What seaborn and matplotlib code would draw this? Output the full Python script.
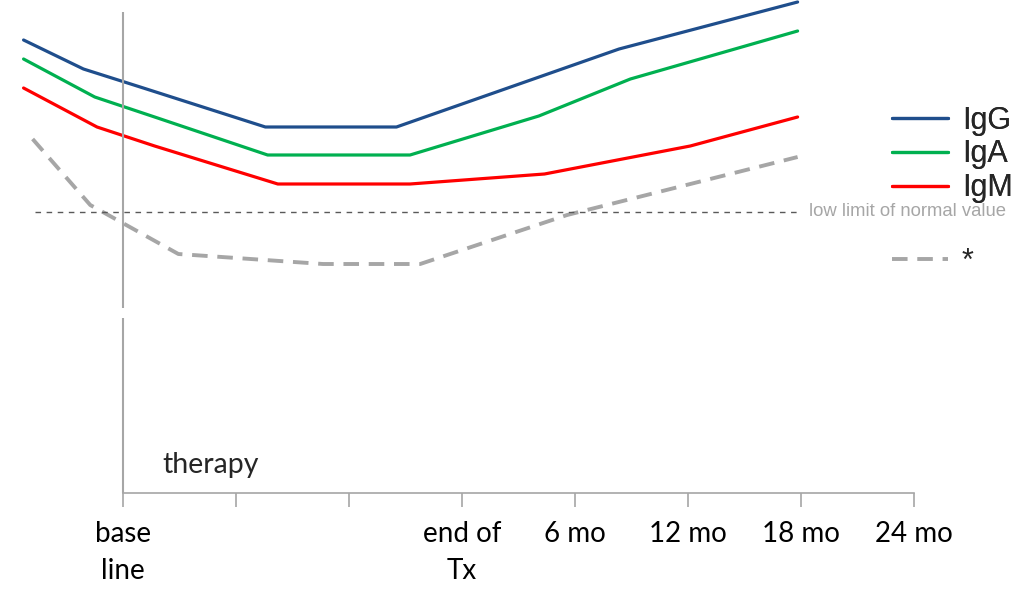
import seaborn as sns
import matplotlib.pyplot as plt
import pandas as pd
from matplotlib.lines import Line2D

# schematic immunoglobulin levels (arbitrary units), x in tick-slot units
igg_x = [-0.88, -0.35, 0.18, 1.26, 2.42, 4.39, 5.97]
igg_y = [45.3, 42.4, 40.5, 36.6, 36.6, 44.4, 49.1]
iga_x = [-0.88, -0.25, 0.28, 1.28, 2.54, 3.68, 4.49, 5.97]
iga_y = [43.4, 39.6, 37.6, 33.8, 33.8, 37.7, 41.4, 46.2]
igm_x = [-0.88, -0.23, 0.28, 1.37, 2.54, 3.73, 5.02, 5.97]
igm_y = [40.5, 36.6, 34.7, 30.9, 30.9, 31.9, 34.7, 37.6]
star_x = [-0.80, -0.29, 0.49, 1.77, 2.63, 3.93, 5.97]
star_y = [35.4, 28.8, 23.9, 22.9, 22.9, 27.8, 33.6]

limit_x = [-0.78, 5.97]
limit_y = 28.1

tick_pos = [0, 1, 2, 3, 4, 5, 6, 7]
tick_labels = ['base\nline', '', '', 'end of\nTx', '6 mo', '12 mo', '18 mo', '24 mo']

colors = {'IgG': '#1F4E8C', 'IgA': '#00B050', 'IgM': '#FF0000', '*': '#A6A6A6'}

sns.set_style("white")
plt.rcParams['font.family'] = ['Lato', 'DejaVu Sans']

frames = []
for name, xs, ys in [('IgG', igg_x, igg_y), ('IgA', iga_x, iga_y), ('IgM', igm_x, igm_y)]:
    frames.append(pd.DataFrame({'time': xs, 'level': ys, 'series': name}))
df = pd.concat(frames, ignore_index=True)
df_star = pd.DataFrame({'time': star_x, 'level': star_y, 'series': '*'})

fig = plt.figure(figsize=(10.24, 5.94), dpi=100)
ax = fig.add_axes([21.3 / 1024, 101 / 594, 892.7 / 1024, 493 / 594])

sns.lineplot(data=df, x='time', y='level', hue='series', palette=colors,
             estimator=None, sort=False, linewidth=2.3, ax=ax, legend=False)
sns.lineplot(data=df_star, x='time', y='level', color=colors['*'],
             estimator=None, sort=False, linewidth=2.8, ax=ax, legend=False)
for ln in ax.lines:
    ln.set_clip_on(False)
ax.lines[-1].set_dashes((4, 2.5))

# lower limit of normal
ax.plot(limit_x, [limit_y, limit_y], color='#595959', lw=1, dashes=(4, 4))
ax.text(6.07, limit_y, 'low limit of normal value', color='#A6A6A6',
        fontsize=13.3, family=['Liberation Sans'], va='center', ha='left')

# therapy marker (broken vertical line)
ax.vlines(0, 0, 17.5, color='#A6A6A6', lw=1.5)
ax.vlines(0, 18.5, 48.1, color='#A6A6A6', lw=1.5)
ax.text(0.35, 2.0, 'therapy', fontsize=20.5, va='baseline', ha='left')

ax.set_xlim(-0.9, 7)
ax.set_ylim(0, 49.3)
ax.set_xticks(tick_pos)
ax.set_xticklabels(tick_labels, fontsize=20)
for lbl in ax.get_xticklabels():
    lbl.set_linespacing(1.55)
ax.set_yticks([])
ax.set_xlabel('')
ax.set_ylabel('')
for s in ['top', 'right', 'left']:
    ax.spines[s].set_visible(False)
ax.spines['bottom'].set_bounds(0, 7)
ax.spines['bottom'].set_color('#A6A6A6')
ax.spines['bottom'].set_linewidth(1.2)
ax.tick_params(axis='x', bottom=True, direction='out', length=10, width=1.2,
               color='#A6A6A6', pad=10, labelcolor='black')

handles = [Line2D([], [], color=colors[k], lw=2.3) for k in ['IgG', 'IgA', 'IgM']]
leg = fig.legend(handles, ['IgG', 'IgA', 'IgM'], loc='upper left',
                 bbox_to_anchor=(864 / 1024, 1 - 78 / 594), frameon=False,
                 prop={'family': 'Liberation Sans', 'size': 22},
                 handlelength=1.85, handletextpad=0.45, labelspacing=0.13)
star_h = [Line2D([], [], color=colors['*'], lw=2.8, dashes=(4, 2.5))]
leg2 = fig.legend(star_h, ['*'], loc='upper left',
                  bbox_to_anchor=(864 / 1024, 1 - 219 / 594), frameon=False,
                  prop={'family': 'Liberation Sans', 'size': 22},
                  handlelength=1.85, handletextpad=0.45)
fig.add_artist(leg)

fig.savefig('out.png', dpi=100)
